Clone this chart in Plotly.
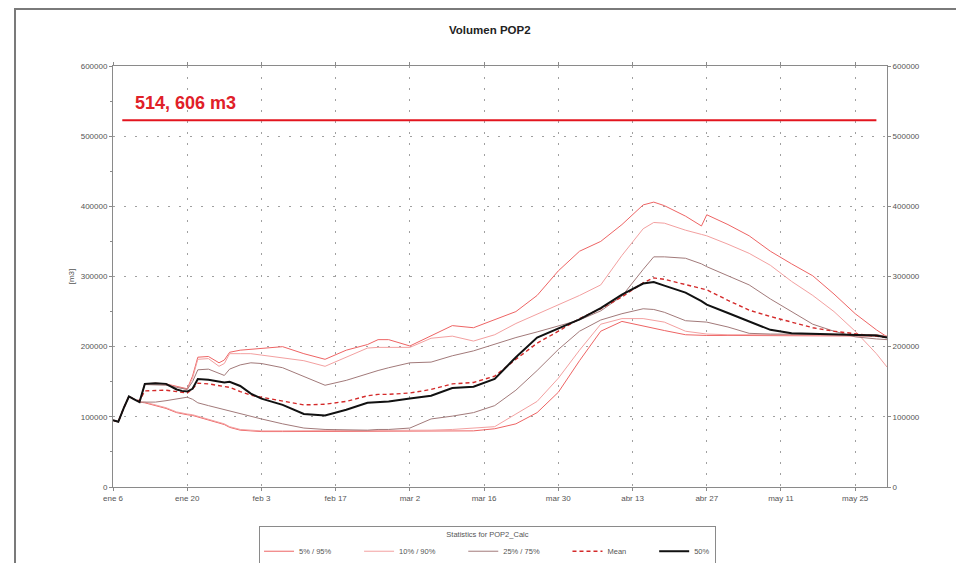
import pandas as pd
import plotly.graph_objects as go

# ---------------- data (values in thousands of m3) ----------------
start_date = "2020-01-06"
days = [0, 1, 2, 3, 4, 5, 6, 8, 10, 12, 13, 14, 15, 16, 18, 20, 21, 22, 24, 26, 28,
        32, 36, 40, 44, 48, 50, 52, 56, 60, 64, 68, 72, 76, 80, 84, 88, 92, 96, 100,
        102, 104, 108, 111, 112, 116, 120, 124, 128, 132, 136, 140, 144, 146]

p95 = [95, 93, 112, 129, 125, 121, 147, 148, 147, 144, 142, 140, 158, 185, 186, 177, 181, 192, 195, 196, 197,
       200, 190, 182, 195, 203, 210, 210, 201, 215, 230, 227, 238, 250, 273, 308, 336, 350, 374, 402,
       406, 401, 386, 372, 388, 374, 358, 336, 318, 301, 275, 247, 224, 214]
p90 = [95, 93, 112, 129, 125, 121, 146, 147, 146, 143, 141, 139, 155, 182, 183, 172, 176, 190, 190, 190, 188,
       184, 180, 172, 185, 198, 199, 199, 199, 212, 215, 208, 217, 233, 246, 259, 273, 288, 330, 368,
       377, 376, 366, 360, 358, 346, 333, 316, 293, 273, 250, 222, 190, 171]
p75 = [95, 93, 112, 129, 125, 121, 146, 146, 145, 142, 140, 139, 150, 167, 168, 162, 159, 168, 174, 177, 176,
       170, 157, 145, 152, 162, 166, 170, 177, 178, 187, 194, 204, 213, 221, 229, 238, 251, 272, 310,
       328, 328, 326, 318, 314, 301, 288, 268, 250, 232, 222, 214, 211, 210]
mean = [95, 93, 112, 129, 125, 123, 137, 138, 138, 136, 135, 134, 140, 148, 147, 145, 143, 142, 136, 131, 128,
        122, 117, 118, 122, 130, 132, 132, 134, 139, 147, 149, 158, 182, 205, 222, 240, 254, 271, 291,
        298, 296, 289, 283, 281, 266, 252, 243, 235, 227, 222, 218, 215, 213]
p50 = [95, 93, 112, 129, 125, 121, 147, 148, 147, 139, 137, 136, 140, 154, 153, 151, 149, 150, 144, 133, 126,
       117, 104, 102, 110, 120, 121, 122, 126, 130, 141, 143, 154, 185, 213, 226, 239, 255, 274, 290,
       292, 287, 277, 265, 260, 248, 236, 224, 219, 218, 217, 217, 216, 213]
p25 = [95, 93, 112, 129, 125, 121, 121, 121, 123, 126, 127, 128, 125, 120, 116, 112, 111, 109, 104, 100, 97,
       90, 84, 82, 81, 81, 82, 82, 84, 97, 101, 106, 116, 138, 166, 196, 222, 238, 247, 254,
       253, 249, 237, 235, 235, 228, 219, 218, 218, 218, 218, 217, 217, 214]
p10 = [95, 93, 112, 129, 125, 121, 121, 117, 113, 107, 105, 104, 103, 101, 97, 93, 90, 86, 82, 81, 80,
       80, 80, 80, 80, 80, 80, 80, 80, 81, 82, 84, 86, 104, 122, 155, 195, 232, 240, 240,
       238, 235, 222, 219, 218, 217, 217, 217, 217, 217, 217, 217, 217, 215]
p5 = [95, 93, 112, 129, 125, 121, 120, 116, 112, 106, 104, 103, 102, 100, 96, 92, 89, 85, 81, 80, 79,
      79, 79, 79, 79, 79, 79, 79, 79, 79, 79, 80, 83, 90, 106, 135, 180, 222, 236, 229,
      226, 223, 217, 216, 216, 216, 216, 216, 216, 216, 216, 216, 216, 215]

ref_value = 522800
ref_label = "514, 606 m3"
ref_dates = ["2020-01-07 18:00", "2020-05-29"]
ref_label_date = "2020-01-09 18:00"
ref_label_value = 547000

tick_dates = ["2020-01-06", "2020-01-20", "2020-02-03", "2020-02-17", "2020-03-02", "2020-03-16",
              "2020-03-30", "2020-04-13", "2020-04-27", "2020-05-11", "2020-05-25"]
tick_labels = ["ene 6", "ene 20", "feb 3", "feb 17", "mar 2", "mar 16",
               "mar 30", "abr 13", "abr 27", "may 11", "may 25"]
y_ticks = [0, 100000, 200000, 300000, 400000, 500000, 600000]
y_tick_labels = ["0", "100000", "200000", "300000", "400000", "500000", "600000"]

x_range = ["2020-01-06", "2020-05-31"]

# ---------------- figure ----------------
dates = pd.to_datetime(start_date) + pd.to_timedelta(days, unit="D")
k = 1000

c595 = "#ee6464"
c1090 = "#f3a0a0"
c2575 = "#a27a7a"
cmean = "#d42a2a"

NB = "\u00a0"
fig = go.Figure()


def add(series, name, color, width, dash, show, group):
    fig.add_trace(go.Scatter(
        x=dates, y=[v * k for v in series], mode="lines", name=name,
        legendgroup=group, showlegend=show,
        line=dict(color=color, width=width, dash=dash),
        hoverinfo="skip"))


add(p95, "5% / 95%" + NB * 11, c595, 1, "solid", True, "a")
add(p5, "5% / 95%", c595, 1, "solid", False, "a")
add(p90, "10% / 90%" + NB * 11, c1090, 1, "solid", True, "b")
add(p10, "10% / 90%", c1090, 1, "solid", False, "b")
add(p75, "25% / 75%" + NB * 11, c2575, 1, "solid", True, "c")
add(p25, "25% / 75%", c2575, 1, "solid", False, "c")
add(mean, "Mean" + NB * 11, cmean, 1.4, "4px,3px", True, "d")
add(p50, "50%", "#111111", 2, "solid", True, "e")

# reference capacity line
fig.add_trace(go.Scatter(x=ref_dates, y=[ref_value, ref_value], mode="lines",
                         line=dict(color="#e3141e", width=2), showlegend=False,
                         hoverinfo="skip"))
# invisible trace for the right-hand axis
fig.add_trace(go.Scatter(x=x_range, y=[0, 0], yaxis="y2", mode="lines",
                         line=dict(width=0), showlegend=False, hoverinfo="skip"))

fig.add_annotation(x=ref_label_date, y=ref_label_value, text="<b>" + ref_label + "</b>",
                   showarrow=False, xanchor="left", yanchor="middle",
                   font=dict(family="Liberation Sans, Arial", size=18, color="#e02028"))

grid = dict(showgrid=True, gridcolor="#a0a0a0", gridwidth=1, griddash="2px,9px")
tickfont = dict(family="Liberation Sans, Arial", size=8, color="#555555")

# the page body adds an 8px margin, so the figure is 8px smaller than the window
fig.update_layout(
    width=956, height=555,
    margin=dict(l=105, r=77, t=58, b=76, autoexpand=False),
    paper_bgcolor="white", plot_bgcolor="white",
    title=dict(text="<b>Volumen POP2</b>", x=0.504, xanchor="center", y=0.9604, yanchor="middle",
               font=dict(family="Liberation Sans, Arial", size=11.5, color="#222222")),
    xaxis=dict(type="date", range=x_range, tickvals=tick_dates, ticktext=tick_labels,
               showline=True, linecolor="#8a8a8a", linewidth=1, mirror="ticks",
               ticks="outside", ticklen=3, tickcolor="#8a8a8a", tickfont=tickfont,
               zeroline=False, **grid),
    yaxis=dict(range=[0, 600000], tickvals=y_ticks, ticktext=y_tick_labels,
               showline=True, linecolor="#8a8a8a", linewidth=1, mirror=True,
               ticks="outside", ticklen=3, tickcolor="#8a8a8a", tickfont=tickfont,
               minor=dict(dtick=50000, ticks="outside", ticklen=2, tickcolor="#8a8a8a", showgrid=False),
               title=dict(text="[m3]", font=dict(family="Liberation Sans, Arial", size=8, color="#555555"),
                          standoff=4),
               zeroline=False, **grid),
    yaxis2=dict(range=[0, 600000], overlaying="y", side="right", tickvals=y_ticks,
                ticktext=y_tick_labels, showgrid=False, zeroline=False,
                showline=True, linecolor="#8a8a8a", ticks="outside", ticklen=3,
                tickcolor="#8a8a8a", tickfont=tickfont),
    legend=dict(orientation="h", xref="container", yref="container",
                x=0.2626, y=0.0667, xanchor="left", yanchor="top",
                bordercolor="#8a8a8a", borderwidth=1, bgcolor="white",
                font=dict(family="Liberation Sans, Arial", size=7.5, color="#555555"),
                title=dict(text="Statistics for POP2_Calc", side="top center",
                           font=dict(family="Liberation Sans, Arial", size=7.5, color="#555555")),
                tracegroupgap=0, itemwidth=30),
    showlegend=True,
)

# outer frame of the exported picture
fig.add_shape(type="rect", xref="paper", yref="paper", x0=-0.1266, x1=1.0969, y0=-0.25, y1=1.1354,
              line=dict(color="#7a7a7a", width=2), layer="below")

fig.write_html("out.html")
